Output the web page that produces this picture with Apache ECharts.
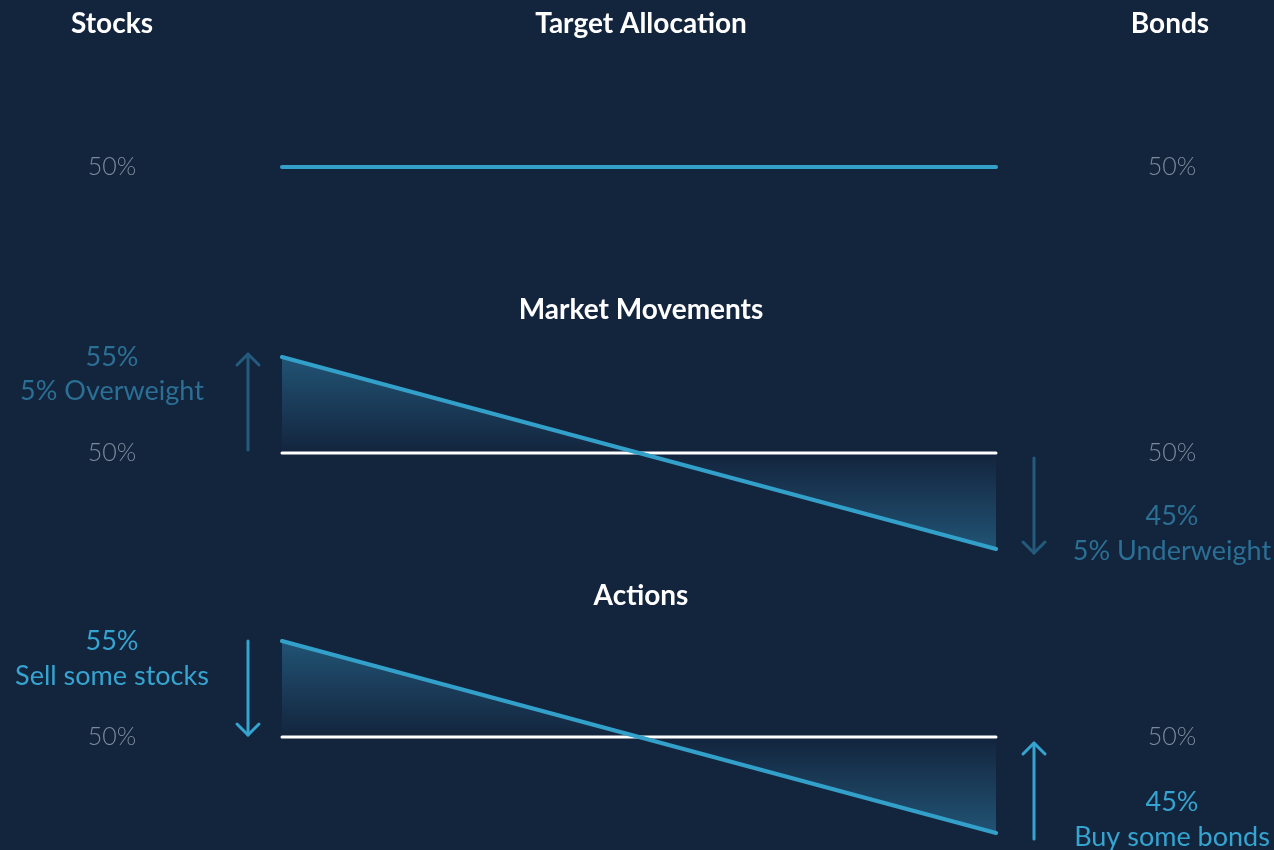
<!DOCTYPE html>
<html>
<head>
<meta charset="utf-8">
<script src="https://cdn.jsdelivr.net/npm/echarts@6/dist/echarts.min.js"></script>
<style>
html,body{margin:0;padding:0;background:#13243d;}
#c{width:1274px;height:850px;}
</style>
</head>
<body>
<div id="c"></div>
<script>
// ---- data ----
const sides = ['Stocks', 'Bonds'];
const panelTitles = ['Target Allocation', 'Market Movements', 'Actions'];
const targetLine = [50, 50];
const marketBase = [50, 50];
const marketLine = [55, 45];
const actionBase = [50, 50];
const actionLine = [55, 45];
const baseLabel = '50%';
const overLabels = ['55%', '5% Overweight'];
const underLabels = ['45%', '5% Underweight'];
const sellLabels = ['55%', 'Sell some stocks'];
const buyLabels = ['45%', 'Buy some bonds'];

// ---- styles ----
const BG = '#13243d';
const BLUE = '#33a0ca';
const GRAY = '#7b8b9c';
const DIM = '#2b6f95';
const DIM_ARROW = '#245b7d';
const BRIGHT = '#35a4d0';
const FONT = 'Lato, "Open Sans", sans-serif';
const TS = 28;  // title size
const LS = 27;  // label size
const GS = 25;  // gray label size

const panelTops = [71, 357, 641];
const H = 192;

const chart = echarts.init(document.getElementById('c'), null, {renderer: 'canvas'});

const grids = panelTops.map(t => ({left: 282, right: 278, top: t, height: H}));
const xAxes = panelTops.map((t, i) => ({type: 'category', gridIndex: i, data: sides, boundaryGap: false, show: false}));
const yAxes = panelTops.map((t, i) => ({type: 'value', gridIndex: i, min: 45, max: 55, show: false}));

const areaGrad = new echarts.graphic.LinearGradient(0, 0, 0, 1, [
  {offset: 0, color: 'rgba(42,112,150,0.62)'},
  {offset: 0.5, color: 'rgba(42,112,150,0.0)'},
  {offset: 1, color: 'rgba(42,112,150,0.62)'}
]);

function baseSeries(idx, data) {
  return {type: 'line', xAxisIndex: idx, yAxisIndex: idx, data: data, symbol: 'none', silent: true, z: 2,
    lineStyle: {color: '#ffffff', width: 3, cap: 'round'}};
}
function moveSeries(idx, data) {
  return {type: 'line', xAxisIndex: idx, yAxisIndex: idx, data: data, symbol: 'none', silent: true, z: 3,
    lineStyle: {color: BLUE, width: 4, cap: 'round'},
    areaStyle: {origin: 50, color: areaGrad, opacity: 1}};
}

chart.setOption({
  backgroundColor: BG,
  animation: false,
  grid: grids,
  xAxis: xAxes,
  yAxis: yAxes,
  series: [
    {type: 'line', xAxisIndex: 0, yAxisIndex: 0, data: targetLine, symbol: 'none', silent: true,
      lineStyle: {color: BLUE, width: 4, cap: 'round'}},
    baseSeries(1, marketBase),
    moveSeries(1, marketLine),
    baseSeries(2, actionBase),
    moveSeries(2, actionLine)
  ]
});

function py(i, v) { return chart.convertToPixel({gridIndex: i}, [0, v])[1]; }

const LX = 112, RX = 1172, LA = 248, RA = 1034;
const els = [];
function txt(x, y, s, color, size, weight) {
  els.push({type: 'text', x: x, y: y, silent: true,
    style: {text: s, fill: color, font: (weight || 'normal') + ' ' + size + 'px ' + FONT, align: 'center', verticalAlign: 'middle'}});
}
function arrow(x, y1, y2, color) {
  const dir = y2 < y1 ? 1 : -1; // head at y2
  els.push({type: 'polyline', silent: true, shape: {points: [[x, y1], [x, y2]]},
    style: {stroke: color, lineWidth: 3, lineCap: 'round', fill: null}});
  els.push({type: 'polyline', silent: true, shape: {points: [[x - 11, y2 + dir * 11], [x, y2], [x + 11, y2 + dir * 11]]},
    style: {stroke: color, lineWidth: 3, lineCap: 'round', lineJoin: 'round', fill: null}});
}

// headers
txt(LX, 24, sides[0], '#ffffff', TS, 'bold');
txt(RX - 2, 24, sides[1], '#ffffff', TS, 'bold');
txt(641, 24, panelTitles[0], '#ffffff', TS, 'bold');
txt(641, 310, panelTitles[1], '#ffffff', TS, 'bold');
txt(641, 596, panelTitles[2], '#ffffff', TS, 'bold');

// panel 1
txt(LX, py(0, targetLine[0]), baseLabel, GRAY, GS, '300');
txt(RX, py(0, targetLine[1]), baseLabel, GRAY, GS, '300');

// panel 2
txt(LX, py(1, marketLine[0]), overLabels[0], DIM, LS);
txt(LX, py(1, marketLine[0]) + 34, overLabels[1], DIM, LS);
txt(LX, py(1, marketBase[0]), baseLabel, GRAY, GS, '300');
txt(RX, py(1, marketBase[1]), baseLabel, GRAY, GS, '300');
txt(RX, py(1, marketLine[1]) - 33, underLabels[0], DIM, LS);
txt(RX, py(1, marketLine[1]) + 2, underLabels[1], DIM, LS);
arrow(LA, py(1, marketBase[0]) - 3, py(1, marketLine[0]) - 3, DIM_ARROW);
arrow(RA, py(1, marketBase[1]) + 5, py(1, marketLine[1]) + 4, DIM_ARROW);

// panel 3
txt(LX, py(2, actionLine[0]), sellLabels[0], BRIGHT, LS);
txt(LX, py(2, actionLine[0]) + 35, sellLabels[1], BRIGHT, LS);
txt(LX, py(2, actionBase[0]), baseLabel, GRAY, GS, '300');
txt(RX, py(2, actionBase[1]), baseLabel, GRAY, GS, '300');
txt(RX, py(2, actionLine[1]) - 31, buyLabels[0], BRIGHT, LS);
txt(RX, py(2, actionLine[1]) + 4, buyLabels[1], BRIGHT, LS);
arrow(LA, py(2, actionLine[0]), py(2, actionBase[0]) - 2, BRIGHT);
arrow(RA, py(2, actionLine[1]) + 6, py(2, actionBase[1]) + 6, BRIGHT);

chart.setOption({graphic: {elements: els}});
</script>
</body>
</html>
